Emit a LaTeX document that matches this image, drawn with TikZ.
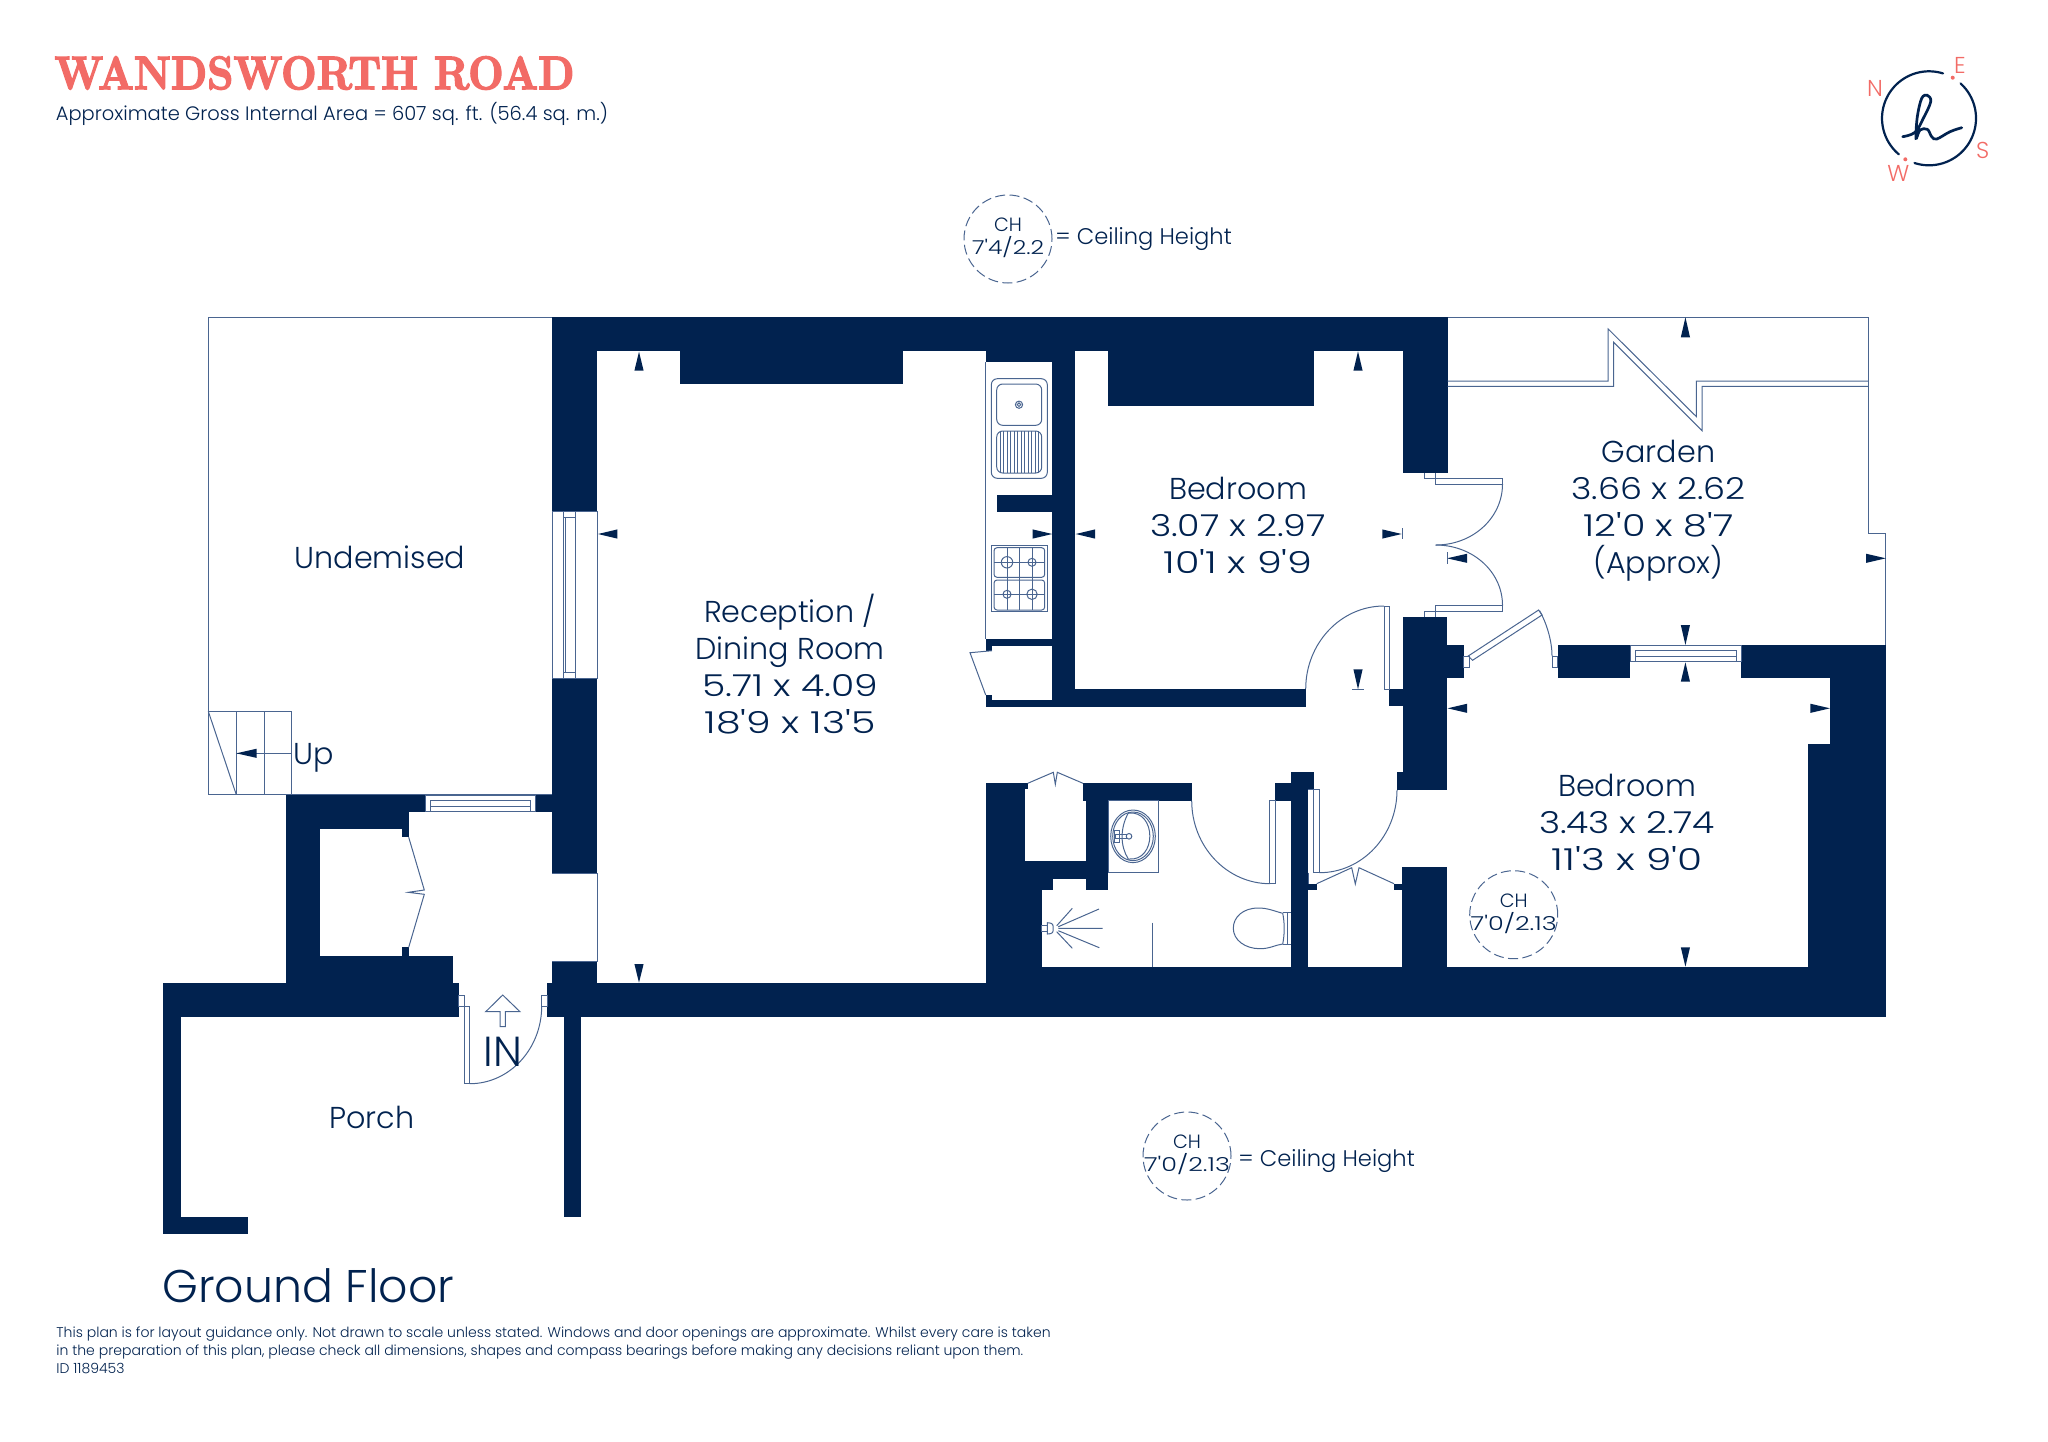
\documentclass[tikz,border=0pt]{standalone}
\usepackage{fontspec}
\usepackage{graphicx}
\newfontfamily\pf{Poppins}[UprightFont=* Light]
\definecolor{navy}{HTML}{01224F}
\definecolor{coral}{HTML}{F26B66}
\definecolor{fineblue}{HTML}{4A6590}
\tikzset{
 wall/.style={fill=navy,draw=none},
 fineline/.style={draw=fineblue,line width=0.5pt,line join=miter},
 roomlabel/.style={text=navy,align=center,font=\pf\fontsize{15.1}{18.5}\selectfont,inner sep=0pt},
 smalllabel/.style={text=navy,align=center,font=\pf\fontsize{9.6}{11.6}\selectfont,inner sep=0pt},
 legendlabel/.style={text=navy,font=\pf\fontsize{11.3}{14}\selectfont,inner sep=0pt,anchor=west},
 compasslabel/.style={text=coral,font=\pf\fontsize{11.5}{13}\selectfont,inner sep=0pt},
 chcircle/.style={draw=fineblue,line width=0.5pt,dash pattern=on 5pt off 2.2pt,circle,minimum size=44pt,inner sep=0pt}
}
\newcommand{\wl}[4]{\fill[wall] (#1,#2) rectangle (#3,#4);}
\newcommand{\arrV}[3]{\fill[wall] (#1,#2) -- (#1-4.6,#3) -- (#1+4.6,#3) -- cycle;}
\newcommand{\arrH}[3]{\fill[wall] (#1,#2) -- (#3,#2-4.6) -- (#3,#2+4.6) -- cycle;}
\newcommand{\fw}[2]{\resizebox{\dimexpr #1pt/2\relax}{\height}{#2}}
\begin{document}
\begin{tikzpicture}[x=0.5pt,y=-0.5pt]
\useasboundingbox (0,0) rectangle (2048,1441);
% ---- title
\node[anchor=west,inner sep=0pt,text=coral] (title) at (54,73) {\resizebox{260pt}{16.4pt}{\special{pdf:code q 2 Tr 0.3 w}\bfseries WANDSWORTH ROAD\special{pdf:code Q}}};
\node[anchor=west,inner sep=0pt,text=navy,font=\pf\fontsize{9.73}{12}\selectfont] (area) at (55.5,114) {Approximate Gross Internal Area = 607 sq. ft. (56.4 sq. m.)};
% ---- walls
\wl{552.3}{317.3}{1447.6}{350.7}
\wl{552.3}{350}{597.3}{511.7}
\wl{552.3}{678}{597.3}{873}
\wl{552.3}{961.7}{597.3}{983.5}
\wl{286}{795}{425.3}{811.7}
\wl{535.7}{795}{552.3}{811.7}
\wl{286}{795}{320}{983.5}
\wl{286}{811}{408.7}{828.7}
\wl{402.3}{828}{408.7}{837.3}
\wl{402.3}{947.3}{408.7}{956}
\wl{286}{955.7}{453.3}{983.5}
\wl{163.3}{983.3}{458.7}{1017}
\wl{547}{983.3}{1886}{1017}
\wl{163.3}{1017}{181}{1234}
\wl{163.3}{1216.7}{247.7}{1234}
\wl{563.7}{1017}{580.7}{1217}
\wl{680.4}{350}{902.5}{384}
\wl{985.7}{350.7}{1075}{362}
\wl{1052.3}{350}{1075}{706.7}
\wl{996.7}{495}{1052.3}{512.3}
\wl{985.7}{639.3}{1052.3}{645.7}
\wl{985.7}{645}{992}{650.7}
\wl{985.7}{695}{992}{700.5}
\wl{985.7}{700}{1075}{706.7}
\wl{1075}{689}{1306}{706.7}
\wl{1107.7}{350}{1314}{406.3}
\wl{1402.5}{350}{1447.6}{473}
\wl{1402.5}{617}{1447.3}{789.7}
\wl{1447}{645}{1463.6}{678.3}
\wl{1389}{689}{1403}{706.3}
\wl{1396.7}{772.3}{1403}{789.7}
\wl{1557.5}{645}{1630.3}{678.3}
\wl{1741}{645}{1886}{678.3}
\wl{1830.2}{678}{1886}{744.3}
\wl{1807.5}{744}{1886}{983.5}
\wl{1402.3}{866.7}{1447.3}{983.5}
\wl{1394}{883.7}{1403}{890}
\wl{1308}{883.7}{1316.7}{890}
\wl{1291.3}{772.3}{1314}{789.3}
\wl{1291.3}{789}{1308.3}{983.5}
\wl{1274.7}{783.3}{1291.5}{800.7}
\wl{1083}{783.3}{1191.7}{800.7}
\wl{1085.7}{800}{1108.3}{879}
\wl{985.7}{861.3}{1108.3}{879}
\wl{985.7}{783.3}{1025}{890}
\wl{1025}{783.3}{1027.7}{789.3}
\wl{985.7}{879}{1052.7}{890}
\wl{1085.7}{879}{1108.3}{890}
\wl{985.7}{890}{1041.7}{983.5}
\wl{1041.7}{966.7}{1886}{983.5}
% ---- undemised outline and stairs
\draw[fineline] (552.3,317.3) -- (208.3,317.3) -- (208.3,794.7) -- (552.3,794.7);
\draw[fineline] (208.3,711.3) rectangle (291.7,794.7);
\draw[fineline] (236.3,711.3) -- (236.3,794.7) (264,711.3) -- (264,794.7);
\draw[fineline] (208.3,711.3) -- (236.3,794.7);
\draw[fineline] (291.7,753.3) -- (236.3,753.3);
\arrH{236.3}{753.3}{256.7}
% ---- windows
\draw[fineline] (552.3,511.7) rectangle (597.3,678);
\draw[fineline] (563.3,511.7) -- (563.3,678) (575.3,511.7) -- (575.3,678) (565.7,517.3) -- (565.7,672.7) (563.3,517.3) -- (575.3,517.3) (563.3,672.7) -- (575.3,672.7);
\draw[fineline] (425.3,795) rectangle (535.7,811.7);
\draw[fineline] (430.7,800.7) rectangle (530.7,811.7);
\draw[fineline] (430.7,806) -- (530.7,806);
\draw[fineline] (1630.3,645) rectangle (1741,661.7);
\draw[fineline] (1635.3,650.7) rectangle (1736,661.7);
\draw[fineline] (1635.3,656) -- (1736,656);
% ---- hall gap line
\draw[fineline] (552.3,873) -- (597.3,873) -- (597.3,961.7) -- (552.3,961.7);
% ---- porch cupboard doors
\draw[fineline] (408.7,837.3) -- (424.3,890) -- (408.3,892.3) -- (424.3,894.3) -- (408.7,947.3);
% ---- entrance door
\draw[fineline] (458.7,995) rectangle (464,1006);
\draw[fineline] (458.7,1006) -- (469.7,1006);
\draw[fineline] (464,1006) -- (464,1083.7) -- (469.7,1083.7) -- (469.7,1006);
\draw[fineline] (469.7,1083.7) .. controls (509.5,1083.7) and (541.7,1048.9) .. (541.7,1006);
\draw[fineline] (541.7,995) rectangle (547,1006);
\draw[fineline] (502.7,995) -- (485.7,1011.7) -- (500,1011.7) -- (500,1026.7) -- (505.3,1026.7) -- (505.3,1011.7) -- (520,1011.7) -- cycle;
% ---- kitchen
\draw[fineline] (985.7,362) -- (985.7,639.3);
\draw[fineline,rounded corners=3pt] (991.3,378.7) rectangle (1047.3,478.3);
\draw[fineline,rounded corners=3pt] (996.7,384) rectangle (1041.7,425.3);
\draw[fineline,rounded corners=3pt] (996.7,431) rectangle (1041.7,473);
\foreach \xx in {1000.2,1003.7,...,1039} {\draw[fineline] (\xx,431) -- (\xx,473);}
\draw[fineline] (1019,404.7) circle[radius=3.6];
\draw[fineline] (1019,404.7) circle[radius=1.8];
\draw[fineline] (991.3,545) rectangle (1047.3,611.7);
\draw[fineline,rounded corners=1.5pt] (994,547.7) rectangle (1044.7,577.3);
\draw[fineline,rounded corners=1.5pt] (994,580) rectangle (1044.7,610);
\draw[fineline] (1007.3,547.7) -- (1007.3,610) (1019.7,547.7) -- (1019.7,610) (1032,547.7) -- (1032,610) (994,562.3) -- (1044.7,562.3) (994,594.3) -- (1044.7,594.3);
\draw[fineline] (1007,562.3) circle[radius=5.7] (1032,562.3) circle[radius=4] (1007,594.3) circle[radius=4] (1032,594.3) circle[radius=5.2];
\draw[fineline] (992,650.7) -- (970,652.7) -- (985.7,695);
% ---- bedroom door
\draw[fineline] (1305.7,689) .. controls (1305.7,643.2) and (1340.8,606) .. (1384,606);
\draw[fineline] (1384,606) rectangle (1389.3,689.3);
% ---- garden
\draw[fineline] (1447.6,317.3) -- (1868.9,317.3) -- (1868.9,533.7) -- (1885.8,533.7) -- (1885.8,645);
\draw[fineline] (1447.6,381) -- (1608.2,381) -- (1608.2,329) -- (1696.4,416.7) -- (1696.4,381) -- (1868.9,381);
\draw[fineline] (1447.6,386.3) -- (1613.6,386.3) -- (1613.6,342.3) -- (1702.1,430.7) -- (1702.1,386.3) -- (1868.9,386.3);
\draw[fineline] (1424.3,473) -- (1424.3,478.7) -- (1502.5,478.7) -- (1502.5,484) -- (1435.7,484) -- (1435.7,473);
\draw[fineline] (1424.3,617) -- (1424.3,611.3) -- (1502.5,611.3) -- (1502.5,605.3) -- (1435.7,605.3) -- (1435.7,617);
\draw[fineline] (1502.5,484) .. controls (1502.5,517.7) and (1473,545) .. (1435.7,545);
\draw[fineline] (1502.5,605.3) .. controls (1502.5,572) and (1473,545) .. (1435.7,545);
% ---- diagonal door
\draw[fineline] (1463.6,656) rectangle (1469,667.3);
\draw[fineline] (1468.2,656) -- (1538.6,610) -- (1542,615) -- (1472.5,660.3) -- cycle;
\draw[fineline] (1539.6,610.7) .. controls (1546,622) and (1552,640) .. (1552,656);
\draw[fineline] (1552,656) rectangle (1557.5,667.3);
% ---- bathroom
\draw[fineline] (1027.7,783.3) -- (1053.3,772.3) -- (1055.3,784.3) -- (1057.3,772.3) -- (1083,783.3);
\draw[fineline] (1108.3,800.7) rectangle (1158.7,872.7);
\draw[fineline] (1133,836.3) ellipse[x radius=22.3,y radius=26.3];
\draw[fineline] (1133,836.3) ellipse[x radius=20.3,y radius=24.3];
\draw[fineline] (1128.3,813) .. controls (1120,828) and (1120,846) .. (1128.3,859) .. controls (1157,862) and (1157,810) .. (1128.3,813);
\draw[fineline] (1115,834.3) rectangle (1126.7,838.3);
\draw[fineline] (1114,830) rectangle (1119.3,842.7);
\draw[fineline] (1129,836.3) circle[radius=2.8];
\draw[fineline] (1041.7,925.3) rectangle (1047.3,931.3);
\draw[fineline] (1047.3,922.7) .. controls (1053,922.7) and (1053.5,925) .. (1053,928.3) .. controls (1053.5,932) and (1053,934) .. (1047.3,934) -- cycle;
\draw[fineline] (1056.7,925.7) -- (1072.3,908.3) (1058.3,926.7) -- (1099,909) (1058.3,928.3) -- (1102.7,928.3) (1058.3,930.7) -- (1099.3,947.7) (1056.7,931.7) -- (1072.3,948.3);
\draw[fineline] (1152.7,922.7) -- (1152.7,966.7);
\draw[fineline] (1191.7,800.7) .. controls (1191.7,846.5) and (1226.8,883.7) .. (1270,883.7);
\draw[fineline] (1269.3,800) rectangle (1275,883.7);
\draw[fineline] (1282.7,913.3) .. controls (1274,911) and (1268,908) .. (1258.3,908) .. controls (1243,908) and (1233.3,917) .. (1233.3,928.3) .. controls (1233.3,940) and (1245,948.7) .. (1260,948.7) .. controls (1270,948.7) and (1275,945) .. (1282.7,944);
\draw[fineline] (1282.7,913.3) .. controls (1284.7,923) and (1284.7,934) .. (1282.7,944);
\draw[fineline] (1287,912) -- (1287,944.7) (1282.7,912) -- (1291.3,912) (1282.7,944.7) -- (1291.3,944.7);
% ---- second door and cupboard
\draw[fineline] (1308.3,789.3) -- (1319.3,789.3) -- (1319.3,872.7) -- (1313.7,872.7) -- (1313.7,789.3);
\draw[fineline] (1308.3,872.7) -- (1308.3,883.7);
\draw[fineline] (1319.3,872.7) .. controls (1362.2,872.7) and (1397,835.7) .. (1397,790);
\draw[fineline] (1316.7,883.7) -- (1351.7,867.7) -- (1355.3,884) -- (1359,867.7) -- (1394,883.7);
% ---- dimension marks
\arrV{639}{351.7}{370.7}
\arrV{639}{982.7}{964}
\arrH{598}{534}{617.3}
\arrH{1052.3}{534}{1032.7}
\arrH{1075.7}{534}{1095}
\arrH{1401.7}{534}{1382.3}
\draw[fineline] (1402.3,528.3) -- (1402.3,539.3);
\arrV{1358}{351.3}{370.7}
\arrV{1358}{689.3}{669.3}
\draw[fineline] (1352.3,689.3) -- (1363.7,689.3);
\arrV{1685.4}{317.3}{337.3}
\arrH{1447}{558.3}{1467.2}
\draw[fineline] (1447,552.3) -- (1447,564);
\arrH{1885.8}{558.3}{1866}
\arrV{1685.4}{645}{625}
\arrV{1685.4}{662.3}{681.7}
\arrH{1447.6}{708.3}{1467.2}
\arrH{1830}{708.3}{1810.3}
\arrV{1685.4}{966.7}{947.3}
% ---- room labels
\node[roomlabel] (undemised) at (380,557) {Undemised};
\node[roomlabel,anchor=west] (uplabel) at (292.7,758) {Up};
\node[roomlabel] (reception) at (790,664.5) {Reception /\\Dining Room\\\fw{176}{5.71 x 4.09}\\\fw{171}{18'9 x 13'5}};
\node[roomlabel] (bed1) at (1238,525.7) {Bedroom\\\fw{176}{3.07 x 2.97}\\\fw{149}{10'1 x 9'9}};
\node[roomlabel] (garden) at (1658.5,510.5) {Garden\\\fw{174}{3.66 x 2.62}\\\fw{150}{12'0 x 8'7}\\(Approx)};
\node[roomlabel] (bed2) at (1627,822.7) {Bedroom\\\fw{176}{3.43 x 2.74}\\\fw{151}{11'3 x 9'0}};
\node[roomlabel] (porch) at (372,1117.5) {Porch};
\node[roomlabel,font=\pf\fontsize{21}{24}\selectfont] (inlabel) at (502.7,1052) {IN};
% ---- ceiling heights
\node[chcircle] (ch1) at (1008,239) {};
\node[smalllabel] (ch1t) at (1008,238) {CH\\\fw{72}{7'4/2.2}};
\node[legendlabel] (ch1l) at (1055,239) {= Ceiling Height};
\node[chcircle] (ch2) at (1513.7,914.7) {};
\node[smalllabel] (ch2t) at (1513.7,913.7) {CH\\\fw{86}{7'0/2.13}};
\node[chcircle] (ch3) at (1187,1156) {};
\node[smalllabel] (ch3t) at (1187,1155) {CH\\\fw{86}{7'0/2.13}};
\node[legendlabel] (ch3l) at (1238,1161) {= Ceiling Height};
% ---- floor name and notes
\node[anchor=west,inner sep=0pt,text=navy,font=\pf\fontsize{22.9}{26}\selectfont] (floor) at (162,1286) {Ground Floor};
\node[anchor=north west,inner sep=0pt,text=navy,align=left,font=\pf\fontsize{7.02}{9.1}\selectfont] (notes) at (56,1326) {This plan is for layout guidance only. Not drawn to scale unless stated. Windows and door openings are approximate. Whilst every care is taken\\in the preparation of this plan, please check all dimensions, shapes and compass bearings before making any decisions reliant upon them.\\ID 1189453};
% ---- logo
\draw[navy,line width=1.1pt,line cap=round,domain=72.7:230,samples=50,smooth] plot ({1929+47*cos(\x)},{118.3-47*sin(\x)});
\draw[navy,line width=1.1pt,line cap=round,domain=252:407.9,samples=50,smooth] plot ({1929+47*cos(\x)},{118.3-47*sin(\x)});
\draw[navy,line width=1.35pt,line cap=round] plot[smooth,tension=.6] coordinates {(1902.7,136.7) (1915,132.3) (1923.3,118.3) (1930.7,101.7) (1927.3,95.3) (1921.7,98.3) (1917.3,116.7) (1916,138.3) (1920,130) (1927.3,129.3) (1931.7,136.7) (1936.7,139) (1950,131.7) (1961.7,127.7)};
\fill[coral] (1952.7,77.7) circle[radius=2];
\fill[coral] (1905.3,159.3) circle[radius=2];
\node[compasslabel] (compn) at (1875,88.3) {N};
\node[compasslabel] (compe) at (1960,65.7) {E};
\node[compasslabel] (comps) at (1982.7,150) {S};
\node[compasslabel] (compw) at (1898.3,173.3) {W};
\end{tikzpicture}
\end{document}
